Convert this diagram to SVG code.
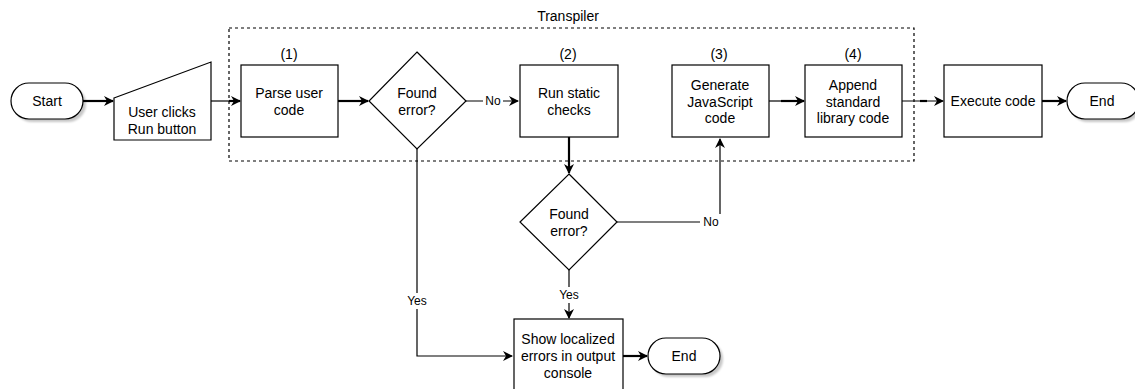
<svg xmlns="http://www.w3.org/2000/svg" width="1135" height="389" viewBox="0 0 1135 389">
  <style>
    .box { fill: #ffffff; stroke: #000000; stroke-width: 1.2; }
    .shadow { fill: #000000; opacity: 0.22; }
    .t { font-family: "Liberation Sans", Arial, Helvetica, sans-serif; font-size: 14px; fill: #000000; text-anchor: middle; dominant-baseline: central; }
    .lbl { font-family: "Liberation Sans", Arial, Helvetica, sans-serif; font-size: 12px; fill: #000000; text-anchor: middle; dominant-baseline: central; }
    .thin { fill: none; stroke: #000000; stroke-width: 1.2; }
    .thick { fill: none; stroke: #000000; stroke-width: 2.2; }
    .group { fill: none; stroke: #000000; stroke-width: 1.2; stroke-dasharray: 3 3; }
  </style>
  <defs>
    <marker id="arrow" viewBox="0 0 10 10" refX="9" refY="5" markerWidth="10" markerHeight="10" markerUnits="userSpaceOnUse" orient="auto">
      <path d="M0,0 L10,5 L0,10 L3,5 Z" fill="#000000"/>
    </marker>
    <filter id="soft" x="-20%" y="-20%" width="140%" height="140%">
      <feGaussianBlur stdDeviation="1"/>
    </filter>
  </defs>
  <rect width="1135" height="389" fill="#ffffff"/>

  <!-- Transpiler group -->
  <g id="transpiler">
    <rect class="group" x="229" y="28" width="685" height="133"/>
    <text class="t" x="568" y="16">Transpiler</text>
  </g>

  <!-- Connectors -->
  <g id="connectors">
    <line class="thick" x1="83" y1="101" x2="113" y2="101" marker-end="url(#arrow)"/>
    <line class="thin" x1="211" y1="101" x2="230" y2="101"/>
    <line class="thick" x1="229" y1="101" x2="240" y2="101" marker-end="url(#arrow)"/>
    <line class="thick" x1="338" y1="101" x2="368" y2="101" marker-end="url(#arrow)"/>
    <line class="thin" x1="466" y1="101" x2="518" y2="101" marker-end="url(#arrow)"/>
    <line class="thick" x1="569" y1="137" x2="569" y2="173" marker-end="url(#arrow)"/>
    <polyline class="thin" points="617,222 720,222 720,139" marker-end="url(#arrow)"/>
    <line class="thin" x1="769" y1="101" x2="782" y2="101"/>
    <line class="thick" x1="781" y1="101" x2="804" y2="101" marker-end="url(#arrow)"/>
    <line class="thin" x1="902" y1="101" x2="943" y2="101" marker-end="url(#arrow)"/>
    <line class="thick" x1="920" y1="101" x2="927" y2="101"/>
    <line class="thick" x1="1042" y1="101" x2="1066" y2="101" marker-end="url(#arrow)"/>
    <polyline class="thin" points="417,149 417,356 512,356" marker-end="url(#arrow)"/>
    <line class="thin" x1="569" y1="270" x2="569" y2="318" marker-end="url(#arrow)"/>
    <line class="thick" x1="623" y1="356" x2="647" y2="356" marker-end="url(#arrow)"/>
    <!-- edge labels -->
    <rect x="483" y="94" width="20" height="14" fill="#ffffff"/>
    <text class="lbl" x="493" y="101">No</text>
    <rect x="700" y="214" width="22" height="16" fill="#ffffff"/>
    <text class="lbl" x="711" y="222">No</text>
    <rect x="404" y="293" width="26" height="16" fill="#ffffff"/>
    <text class="lbl" x="417" y="301">Yes</text>
    <rect x="556" y="287" width="26" height="16" fill="#ffffff"/>
    <text class="lbl" x="569" y="295">Yes</text>
  </g>

  <!-- Nodes -->
  <g id="start">
    <rect class="shadow" x="14" y="86" width="72" height="36" rx="18" filter="url(#soft)"/>
    <rect class="box" x="11" y="83" width="72" height="36" rx="18"/>
    <text class="t" x="47" y="101">Start</text>
  </g>

  <g id="user-clicks">
    <polygon class="box" points="114,98 211,62 211,140 114,140"/>
    <text class="t" x="162" y="112">User clicks</text>
    <text class="t" x="162" y="129">Run button</text>
  </g>

  <g id="parse">
    <text class="t" x="289" y="54">(1)</text>
    <rect class="box" x="241" y="65" width="97" height="72"/>
    <text class="t" x="289" y="93">Parse user</text>
    <text class="t" x="289" y="110">code</text>
  </g>

  <g id="found-error-1">
    <polygon class="box" points="417,52 466,101 417,149 369,101"/>
    <text class="t" x="417" y="93">Found</text>
    <text class="t" x="417" y="110">error?</text>
  </g>

  <g id="static-checks">
    <text class="t" x="568" y="54">(2)</text>
    <rect class="box" x="520" y="65" width="98" height="72"/>
    <text class="t" x="569" y="93">Run static</text>
    <text class="t" x="569" y="110">checks</text>
  </g>

  <g id="generate-js">
    <text class="t" x="719" y="54">(3)</text>
    <rect class="box" x="672" y="65" width="97" height="72"/>
    <text class="t" x="720" y="85">Generate</text>
    <text class="t" x="720" y="102">JavaScript</text>
    <text class="t" x="720" y="118">code</text>
  </g>

  <g id="append-stdlib">
    <text class="t" x="853" y="54">(4)</text>
    <rect class="box" x="805" y="65" width="97" height="72"/>
    <text class="t" x="853" y="85">Append</text>
    <text class="t" x="853" y="102">standard</text>
    <text class="t" x="853" y="118">library code</text>
  </g>

  <g id="execute">
    <rect class="box" x="944" y="65" width="98" height="72"/>
    <text class="t" x="993" y="101">Execute code</text>
  </g>

  <g id="end-1">
    <rect class="shadow" x="1070" y="86" width="72" height="36" rx="18" filter="url(#soft)"/>
    <rect class="box" x="1067" y="83" width="72" height="36" rx="18"/>
    <text class="t" x="1102" y="101">End</text>
  </g>

  <g id="found-error-2">
    <polygon class="box" points="569,174 617,222 569,270 520,222"/>
    <text class="t" x="569" y="214">Found</text>
    <text class="t" x="569" y="231">error?</text>
  </g>

  <g id="show-errors">
    <rect class="box" x="514" y="319" width="109" height="74"/>
    <text class="t" x="568" y="339">Show localized</text>
    <text class="t" x="568" y="356">errors in output</text>
    <text class="t" x="568" y="373">console</text>
  </g>

  <g id="end-2">
    <rect class="shadow" x="651" y="341" width="72" height="36" rx="18" filter="url(#soft)"/>
    <rect class="box" x="648" y="338" width="72" height="36" rx="18"/>
    <text class="t" x="684" y="356">End</text>
  </g>
</svg>
